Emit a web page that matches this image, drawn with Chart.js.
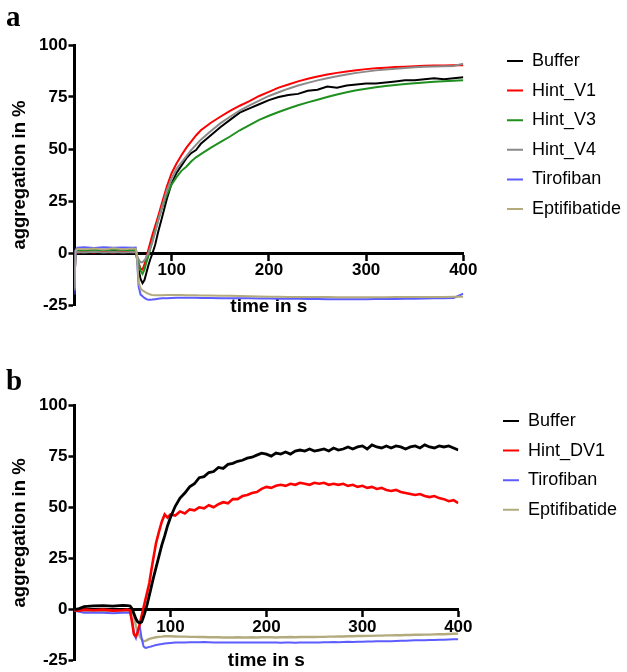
<!DOCTYPE html>
<html><head><meta charset="utf-8">
<script src="https://cdn.jsdelivr.net/npm/chart.js@4.4.1/dist/chart.umd.min.js"></script>
<style>
html,body{margin:0;padding:0;background:#fff;}
#wrap{position:relative;width:627px;height:672px;overflow:hidden;}
canvas{position:absolute;left:0;}
#ca{top:0;}
#cb{top:340px;}
</style></head><body>
<div id="wrap"><canvas id="ca" width="627" height="340"></canvas><canvas id="cb" width="627" height="332"></canvas></div>
<script>
// ---------- Panel a data ----------
const tA = [0,1,3,10,20,30,40,50,60,63,
  64,66,68,70,72,74,76,78,80,
  83,86,90,95,
  100,105,110,115,120,125,130,
  140,150,160,170,180,190,200,210,220,230,240,250,260,270,280,290,300,310,320,330,340,350,360,370,380,390,400];
const bufferA = [-17,0.5,0.8,0.5,0.8,0.4,0.9,0.5,0.8,0.6,
  -2,-8,-12.5,-14.5,-13,-9.5,-6,-3,-0.5,
  4,10,17,26,
  33.5,38.5,42,45.5,48,49.5,52.5,
  56.5,60.5,64,67.5,69.5,71.5,73.5,75,76,76.5,78,78.5,80,79.5,80.5,81,81.5,81.5,82,82.5,83,83,83.5,84,83.5,84,84.5];
const hintV1A = [-17,0.5,0.3,0.6,0.2,0.7,0.3,0.8,0.4,0.5,
  -1,-5,-7.5,-8,-5.5,-2,1.5,5,8.5,
  13,17.5,24,32,
  38.5,43,47,50.5,53.5,56.5,59,
  62.5,65.5,68.3,70.8,73,75.5,77.5,79.5,81,82.5,83.8,84.9,85.8,86.6,87.3,87.9,88.4,88.8,89.1,89.4,89.6,89.8,90,90.1,90.2,90.3,90.3];
const hintV3A = [-17,1,1.5,1.2,1.6,1.3,1.7,1.4,1.6,1.4,
  -1,-5,-8.5,-10,-8,-4.5,-1.5,2,5.5,
  10.5,15.5,21.5,28,
  33,36.5,39.5,41.5,44,46,47.5,
  50.5,53.3,56,59,61.5,64,66,67.8,69.5,71,72.4,73.7,75,76.2,77.3,78.2,79,79.7,80.3,80.8,81.2,81.6,82,82.3,82.6,82.8,83];
const hintV4A = [-17,0.3,0.5,0.2,0.6,0.3,0.5,0.2,0.5,0.4,
  -1,-3,-4.5,-4.5,-3.5,-2,0,2.5,5,
  10,15.5,22,30,
  36,40.5,43.5,46.5,49.5,52,54.5,
  58.5,62.3,65.5,68.5,71,73.3,75.5,77.3,79,80.5,81.8,83,84,85,85.8,86.6,87.2,87.8,88.2,88.6,89,89.3,89.5,89.7,89.8,89.9,91];
const tirofibanA = [-20,1.5,2.5,2.8,2.4,2.8,2.5,2.7,2.5,2.6,
  0,-16,-20,-20.8,-21.6,-22.2,-22.5,-22.5,-22.4,
  -22.2,-22,-21.8,-21.7,
  -21.6,-21.5,-21.5,-21.5,-21.5,-21.5,-21.6,
  -21.6,-21.7,-21.7,-21.8,-21.8,-21.9,-21.9,-22,-22,-22,-22.1,-22.1,-22.2,-22.2,-22.2,-22.2,-22.2,-22.1,-22.1,-22.1,-22,-22,-21.9,-21.8,-21.7,-21.6,-19.5];
const eptifibatideA = [-18,1,2,1.8,2.2,1.7,2.3,1.8,2.2,2,
  0,-14,-17,-18,-18.6,-19.2,-19.6,-20,-20.2,
  -20.3,-20.3,-20.3,-20.2,
  -20.2,-20.2,-20.2,-20.3,-20.3,-20.3,-20.4,
  -20.4,-20.5,-20.6,-20.7,-20.8,-20.9,-21,-21,-21.1,-21.1,-21.2,-21.2,-21.2,-21.3,-21.3,-21.3,-21.3,-21.3,-21.3,-21.2,-21.2,-21.2,-21.1,-21.1,-21.1,-21,-21];

// ---------- Panel b data ----------
const tB = [0,5,10,20,30,40,50,55,58,
  60,62,64,66,68,70,72,74,76,78,80,
  82,85,88,91,94,97,
  100,105,110,115,120,125,130,135,140,145,150,155,160,165,170,175,180,185,190,195,
  200,205,210,215,220,225,230,235,240,245,
  250,255,260,265,270,275,280,285,290,295,
  300,305,310,315,320,325,330,335,340,345,
  350,355,360,365,370,375,380,385,390,395,
  400];
const bufferB = [0,0.5,1.5,1.8,2,1.7,2.1,2,1.8,
  0.5,-2,-4.5,-6,-6.5,-6,-3.5,-0.5,3,7,11,
  15,20.5,26,31.5,36,41,
  45,50.5,54.5,57,60,61.5,64.5,65,67,67.5,69.5,69,71,71.5,72.5,73,74,74.5,75.5,76.5,
  76,75,76.5,76,77,76,77.5,78,77.5,78.5,
  77.5,78,78.5,77.5,79,78,78.5,79.5,78.5,79.5,
  80,78.5,80.5,79.5,79,80,79,80,79.5,78.5,
  79.5,80,79,80.5,79.5,79,80,79.5,80,79,
  78];
const hintDV1B = [-0.5,-0.5,0,-0.3,0,-0.5,-0.3,0,-0.5,
  -6,-12,-13,-11,-7,-3,1,5,9,13,19,
  24.5,32.5,38,43,46.5,45,
  46.5,46,48,47,49,48.5,50,49.5,51,50,51.5,52.5,52,54,54,55.5,56,57,57.5,59,
  60,59.5,60.5,61,60.5,61.5,61,62,61.5,61,
  62,61.5,62,61,61.5,61,61.5,60.5,61,60,
  60.5,59.5,60,59,59.5,58.5,58,58.5,57.5,57,
  56.5,56,56.5,55.5,55,55.5,54.5,54,53,53.5,
  52];
const tirofibanB = [-0.5,-1,-1.5,-1.5,-1.5,-1.8,-1.5,-1.5,-1.5,
  -5,-12,-14,-10,-8,-14,-18,-18.7,-18.5,-18.2,-18,
  -17.7,-17.3,-17,-16.8,-16.5,-16.4,
  -16.3,-16.1,-16,-16,-15.9,-15.9,-15.9,-15.8,-15.9,-16,-16,-16,-16,-16,-16.1,-16,-16,-16,-16.1,-16,
  -16.1,-16,-16.1,-16.2,-16.1,-16.1,-16.2,-16.1,-16,-16.1,
  -16,-16,-15.9,-15.9,-15.8,-15.9,-15.8,-15.7,-15.8,-15.7,
  -15.7,-15.6,-15.6,-15.5,-15.5,-15.4,-15.4,-15.3,-15.2,-15.2,
  -15.1,-15,-15,-14.9,-14.8,-14.8,-14.7,-14.7,-14.6,-14.5,
  -14.5];
const eptifibatideB = [-0.5,-0.5,-0.8,-0.5,-0.8,-0.6,-0.8,-0.6,-0.5,
  -1,-3,-8,-11,-13,-14.5,-15.5,-15.3,-14.8,-14.3,-14,
  -13.8,-13.5,-13.3,-13.2,-13,-13,
  -13,-13.1,-13.2,-13.2,-13.3,-13.3,-13.4,-13.4,-13.5,-13.5,-13.5,-13.6,-13.6,-13.6,-13.5,-13.6,-13.6,-13.5,-13.6,-13.5,
  -13.5,-13.5,-13.6,-13.5,-13.5,-13.4,-13.5,-13.4,-13.4,-13.3,
  -13.4,-13.3,-13.3,-13.2,-13.2,-13.1,-13.1,-13,-13,-12.9,
  -12.9,-12.8,-12.8,-12.7,-12.7,-12.6,-12.6,-12.5,-12.5,-12.4,
  -12.4,-12.3,-12.3,-12.2,-12.2,-12.1,-12,-12,-11.9,-11.8,
  -11.7];

const yTicksMin = -25, yTicksMax = 100, yStep = 25;
const xMin = 0, xMax = 400, xStep = 100;

// ---------- styling ----------
const FONT = "'Liberation Sans', Arial, Helvetica, sans-serif";
Chart.defaults.font.family = FONT;
Chart.defaults.color = '#000';

const COL = {buffer:'#000000', v1:'#ff0000', v3:'#1f8f1f', v4:'#8a8a8a', tiro:'#5c5cff', epti:'#b3aa7e'};

const legendShift = {
  id: 'legendShift',
  afterLayout(chart, args, opts) {
    const lg = chart.legend;
    if (!lg || opts.x == null) return;
    const pad = lg.options.labels.padding;
    const dx = opts.x - (lg.left + pad), dy = opts.y - (lg.top + pad);
    lg.left += dx; lg.right += dx; lg.top += dy; lg.bottom += dy;
  }
};

function pts(t, v) { return t.map((x, i) => ({x: x, y: v[i]})); }
function ds(label, t, v, color, order, width) {
  return {label, data: pts(t, v), borderColor: color, backgroundColor: color,
    borderWidth: width || 2, pointRadius: 0, tension: 0, order: order};
}

function makeOptions(panel, cfg) {
  return {
    responsive: false, animation: false, parsing: true,
    layout: {padding: cfg.padding},
    scales: {
      x: {
        type: 'linear', min: xMin, max: xMax, position: {y: 0},
        ticks: {stepSize: xStep, padding: 1, autoSkip: false, maxRotation: 0,
          font: {size: 17, weight: 'bold'}, color: '#000',
          callback: v => v === 0 ? '' : String(v)},
        grid: {display: true, drawOnChartArea: false, drawTicks: true, tickLength: 6, tickWidth: 2.5,
          tickColor: c => (c.tick && c.tick.value === 0) ? 'rgba(0,0,0,0)' : '#000'},
        border: {display: true, color: '#000', width: 3},
        title: {display: true, text: 'time in s', color: '#000',
          font: {size: 19, weight: 'bold'}, padding: {top: cfg.xTitlePad, bottom: 0}}
      },
      y: {
        type: 'linear', min: yTicksMin, max: yTicksMax, position: 'left',
        ticks: {stepSize: yStep, padding: 1, font: {size: 17, weight: 'bold'}, color: '#000'},
        grid: {display: true, drawOnChartArea: false, drawTicks: true, tickLength: 6, tickWidth: 2.5, tickColor: '#000'},
        border: {display: true, color: '#000', width: 3},
        title: {display: true, text: 'aggregation in %', color: '#000',
          font: {size: 18.5, weight: 'bold'}, padding: {top: 2.7, bottom: 7.2}}
      }
    },
    plugins: {
      title: {display: true, text: panel, align: 'start', color: '#000',
        font: {family: "'Liberation Serif', 'Times New Roman', serif", size: 29, weight: 'bold', lineHeight: 1},
        padding: {top: 0, bottom: cfg.titlePadBottom}},
      legend: {display: true, position: 'right', align: 'start',
        labels: {boxWidth: 16, boxHeight: 0, padding: 11.6, color: '#000', font: {size: 18},
          generateLabels: (chart) => Chart.defaults.plugins.legend.labels.generateLabels(chart)
            .map(l => Object.assign(l, {lineWidth: 2})),
          sort: (a, b) => a.datasetIndex - b.datasetIndex}},
      tooltip: {enabled: false},
      legendShift: {x: cfg.legendX, y: cfg.legendY}
    }
  };
}

new Chart(document.getElementById('ca'), {
  type: 'line',
  data: {datasets: [
    ds('Buffer', tA, bufferA, COL.buffer, 6),
    ds('Hint_V1', tA, hintV1A, COL.v1, 5),
    ds('Hint_V3', tA, hintV3A, COL.v3, 4),
    ds('Hint_V4', tA, hintV4A, COL.v4, 3),
    ds('Tirofiban', tA, tirofibanA, COL.tiro, 2),
    ds('Eptifibatide', tA, eptifibatideA, COL.epti, 1)
  ]},
  options: makeOptions('a', {padding: {top: 4, left: 6, right: 28, bottom: 35}, titlePadBottom: 12, xTitlePad: 13.8, legendX: 507, legendY: 52}),
  plugins: [legendShift]
});

new Chart(document.getElementById('cb'), {
  type: 'line',
  data: {datasets: [
    ds('Buffer', tB, bufferB, COL.buffer, 0, 2.8),
    ds('Hint_DV1', tB, hintDV1B, COL.v1, 1, 2.6),
    ds('Tirofiban', tB, tirofibanB, COL.tiro, 2),
    ds('Eptifibatide', tB, eptifibatideB, COL.epti, 3, 2.4)
  ]},
  options: makeOptions('b', {padding: {top: 28, left: 6, right: 33, bottom: 11}, titlePadBottom: 8, xTitlePad: 11.2, legendX: 503, legendY: 72}),
  plugins: [legendShift]
});
</script>
</body></html>
